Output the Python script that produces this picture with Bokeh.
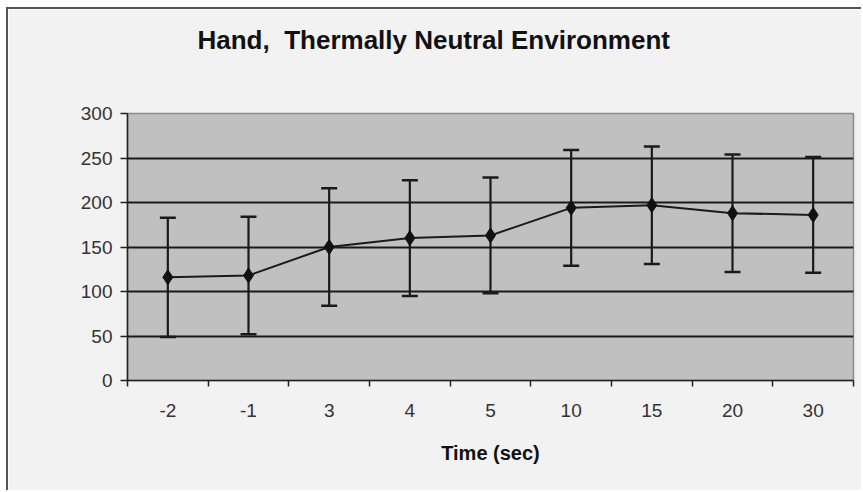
from bokeh.plotting import figure
from bokeh.models import ColumnDataSource, Whisker, TeeHead, FixedTicker, Range1d
from bokeh.embed import file_html
from bokeh.resources import INLINE

title_text = "Hand,\u00a0 Thermally Neutral Environment"
times = ["-2", "-1", "3", "4", "5", "10", "15", "20", "30"]
means = [116, 118, 150, 160, 163, 194, 197, 188, 186]
sds = [67, 66, 66, 65, 65, 65, 66, 66, 65]
y_ticks = [0, 50, 100, 150, 200, 250, 300]

pos = [i + 0.5 for i in range(len(times))]
src = ColumnDataSource(dict(
    x=pos, y=means,
    upper=[m + s for m, s in zip(means, sds)],
    lower=[m - s for m, s in zip(means, sds)],
))

W, H = 855, 483
p = figure(width=W, height=H, output_backend="svg", toolbar_location=None,
           x_range=Range1d(0, len(times)), y_range=Range1d(0, 300),
           title=title_text + "\n\u00a0",
           min_border_left=119, min_border_right=10,
           min_border_top=104, min_border_bottom=112)
p.styles = {"border-left": "2px solid #555555", "border-top": "2px solid #555555",
            "margin-left": "6px", "margin-top": "7px"}

p.background_fill_color = "#c0c0c0"
p.border_fill_color = "#f2f2f2"
p.outline_line_color = "#8a8a8a"
p.outline_line_width = 1.5

p.title.align = "left"
p.title.vertical_align = "top"
p.title.text_font = "Liberation Sans"
p.title.text_font_size = "26px"
p.title.text_font_style = "bold"
p.title.text_color = "#111111"
p.title.text_line_height = 1.5
p.title.offset = 70
p.title.standoff = 24

# x axis
xa = p.xaxis[0]
xa.ticker = FixedTicker(ticks=pos, minor_ticks=list(range(len(times) + 1)))
xa.major_label_overrides = {pos[i]: t for i, t in enumerate(times)}
xa.major_tick_out = 0
xa.major_tick_in = 0
xa.minor_tick_out = 6
xa.minor_tick_in = 0
xa.minor_tick_line_color = "#222222"
xa.minor_tick_line_width = 1.5
xa.axis_line_color = "#222222"
xa.axis_line_width = 1.5
xa.major_label_standoff = 17
xa.major_label_text_font = "Liberation Sans"
xa.major_label_text_font_size = "19px"
xa.major_label_text_color = "#333333"
xa.axis_label = "Time (sec)"
xa.axis_label_text_font = "Liberation Sans"
xa.axis_label_text_font_size = "20px"
xa.axis_label_text_font_style = "bold"
xa.axis_label_text_color = "#111111"
xa.axis_label_standoff = 22

# y axis
ya = p.yaxis[0]
ya.ticker = FixedTicker(ticks=y_ticks)
ya.major_tick_out = 7
ya.major_tick_in = 0
ya.minor_tick_out = 0
ya.minor_tick_in = 0
ya.major_tick_line_color = "#222222"
ya.major_tick_line_width = 1.5
ya.axis_line_color = "#222222"
ya.axis_line_width = 1.5
ya.major_label_standoff = 8
ya.major_label_text_font = "Liberation Sans"
ya.major_label_text_font_size = "19px"
ya.major_label_text_color = "#333333"

p.xgrid.visible = False
p.ygrid.ticker = FixedTicker(ticks=y_ticks[1:-1])
p.ygrid.grid_line_color = "#1a1a1a"
p.ygrid.grid_line_width = 1.8

whisk = Whisker(base="x", upper="upper", lower="lower", source=src,
                line_color="#1a1a1a", line_width=2.2,
                upper_head=TeeHead(size=16, line_color="#1a1a1a", line_width=2.5),
                lower_head=TeeHead(size=16, line_color="#1a1a1a", line_width=2.5))
p.add_layout(whisk)

p.line("x", "y", source=src, line_color="#1a1a1a", line_width=2)
p.scatter("x", "y", source=src, marker="diamond", size=15,
          fill_color="#111111", line_color="#111111")

open("out.html", "w").write(file_html(p, INLINE))
